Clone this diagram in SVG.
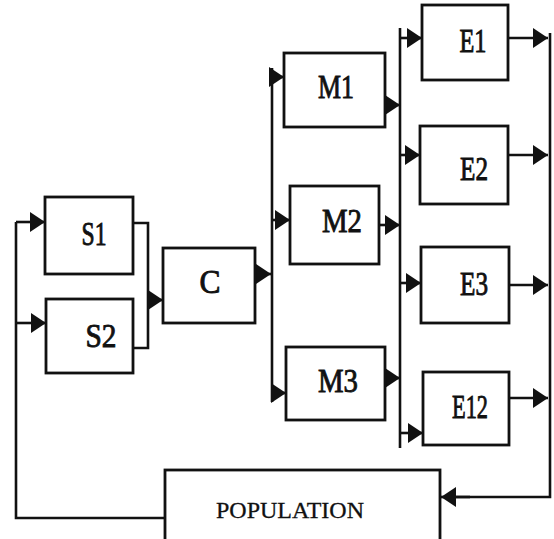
<svg xmlns="http://www.w3.org/2000/svg" width="554" height="539" viewBox="0 0 554 539">
  <style>
    .box { fill: #fff; stroke: #111; stroke-width: 2.8; }
    .wire { fill: none; stroke: #111; stroke-width: 2.6; stroke-linejoin: miter; }
    .arr { fill: none; stroke: #111; stroke-width: 2.6; marker-end: url(#head); }
    .lbl { font-family: "Liberation Serif", "Times New Roman", serif; font-size: 34px; fill: #111; stroke: #111; stroke-width: 0.9; text-anchor: middle; }
    .pop { font-family: "Liberation Serif", "Times New Roman", serif; font-size: 24px; fill: #111; stroke: #111; stroke-width: 0.3; text-anchor: middle; }
  </style>
  <defs>
    <marker id="head" viewBox="0 0 15 20" refX="15" refY="10" markerWidth="15" markerHeight="20" markerUnits="userSpaceOnUse" orient="auto">
      <path d="M0,0 L15,10 L0,20 z" fill="#111"/>
    </marker>
  </defs>
  <rect width="554" height="539" fill="#fff"/>

  <!-- connectors -->
  <g id="connectors">
    <!-- feedback from POPULATION back to the selectors -->
    <path class="wire" d="M165,518 H16 V222"/>
    <path class="arr" d="M16,222 H45"/>
    <path class="arr" d="M16,323 H46"/>
    <!-- S1/S2 merge into C -->
    <path class="wire" d="M133,223 H148 V348 H133"/>
    <path class="arr" d="M148,300 H163"/>
    <!-- C to the M bus -->
    <path class="arr" d="M255,274 H271"/>
    <path class="wire" d="M272,68 V402"/>
    <path class="arr" d="M272,77 H284"/>
    <path class="arr" d="M272,220 H290"/>
    <path class="arr" d="M272,393 H286"/>
    <!-- M outputs to the E bus -->
    <path class="arr" d="M385,105 H400"/>
    <path class="arr" d="M379,225 H400"/>
    <path class="arr" d="M385,378 H400"/>
    <path class="wire" d="M400,28 V448"/>
    <path class="arr" d="M400,38 H422"/>
    <path class="arr" d="M400,155 H420"/>
    <path class="arr" d="M400,283 H421"/>
    <path class="arr" d="M400,433 H423"/>
    <!-- E outputs to the return line -->
    <path class="arr" d="M508,38 H548"/>
    <path class="arr" d="M508,155 H548"/>
    <path class="arr" d="M509,285 H548"/>
    <path class="arr" d="M509,398 H548"/>
    <path class="wire" d="M550,33 V497 H455"/>
    <path class="arr" d="M470,497 H441"/>
  </g>

  <g id="S1">
    <rect class="box" x="45" y="197" width="88" height="77"/>
    <text class="lbl" x="94" y="245" textLength="25" lengthAdjust="spacingAndGlyphs">S1</text>
  </g>
  <g id="S2">
    <rect class="box" x="46" y="299" width="87" height="74"/>
    <text class="lbl" x="101" y="347" textLength="31" lengthAdjust="spacingAndGlyphs">S2</text>
  </g>
  <g id="C">
    <rect class="box" x="163" y="248" width="92" height="75"/>
    <text class="lbl" x="210" y="293" textLength="21" lengthAdjust="spacingAndGlyphs">C</text>
  </g>
  <g id="M1">
    <rect class="box" x="284" y="53" width="101" height="74"/>
    <text class="lbl" x="336" y="98" textLength="36" lengthAdjust="spacingAndGlyphs">M1</text>
  </g>
  <g id="M2">
    <rect class="box" x="290" y="186" width="89" height="78"/>
    <text class="lbl" x="342" y="232" textLength="40" lengthAdjust="spacingAndGlyphs">M2</text>
  </g>
  <g id="M3">
    <rect class="box" x="286" y="347" width="99" height="73"/>
    <text class="lbl" x="338" y="392" textLength="40" lengthAdjust="spacingAndGlyphs">M3</text>
  </g>
  <g id="E1">
    <rect class="box" x="422" y="5" width="86" height="75"/>
    <text class="lbl" x="473" y="52" textLength="27" lengthAdjust="spacingAndGlyphs">E1</text>
  </g>
  <g id="E2">
    <rect class="box" x="420" y="126" width="88" height="78"/>
    <text class="lbl" x="474" y="180" textLength="28" lengthAdjust="spacingAndGlyphs">E2</text>
  </g>
  <g id="E3">
    <rect class="box" x="421" y="247" width="88" height="76"/>
    <text class="lbl" x="474" y="295" textLength="28" lengthAdjust="spacingAndGlyphs">E3</text>
  </g>
  <g id="E12">
    <rect class="box" x="423" y="372" width="86" height="73"/>
    <text class="lbl" x="470" y="418" textLength="36" lengthAdjust="spacingAndGlyphs">E12</text>
  </g>
  <g id="POPULATION">
    <rect class="box" x="165" y="470" width="275" height="80"/>
    <text class="pop" x="290" y="518" textLength="148" lengthAdjust="spacingAndGlyphs">POPULATION</text>
  </g>
</svg>
